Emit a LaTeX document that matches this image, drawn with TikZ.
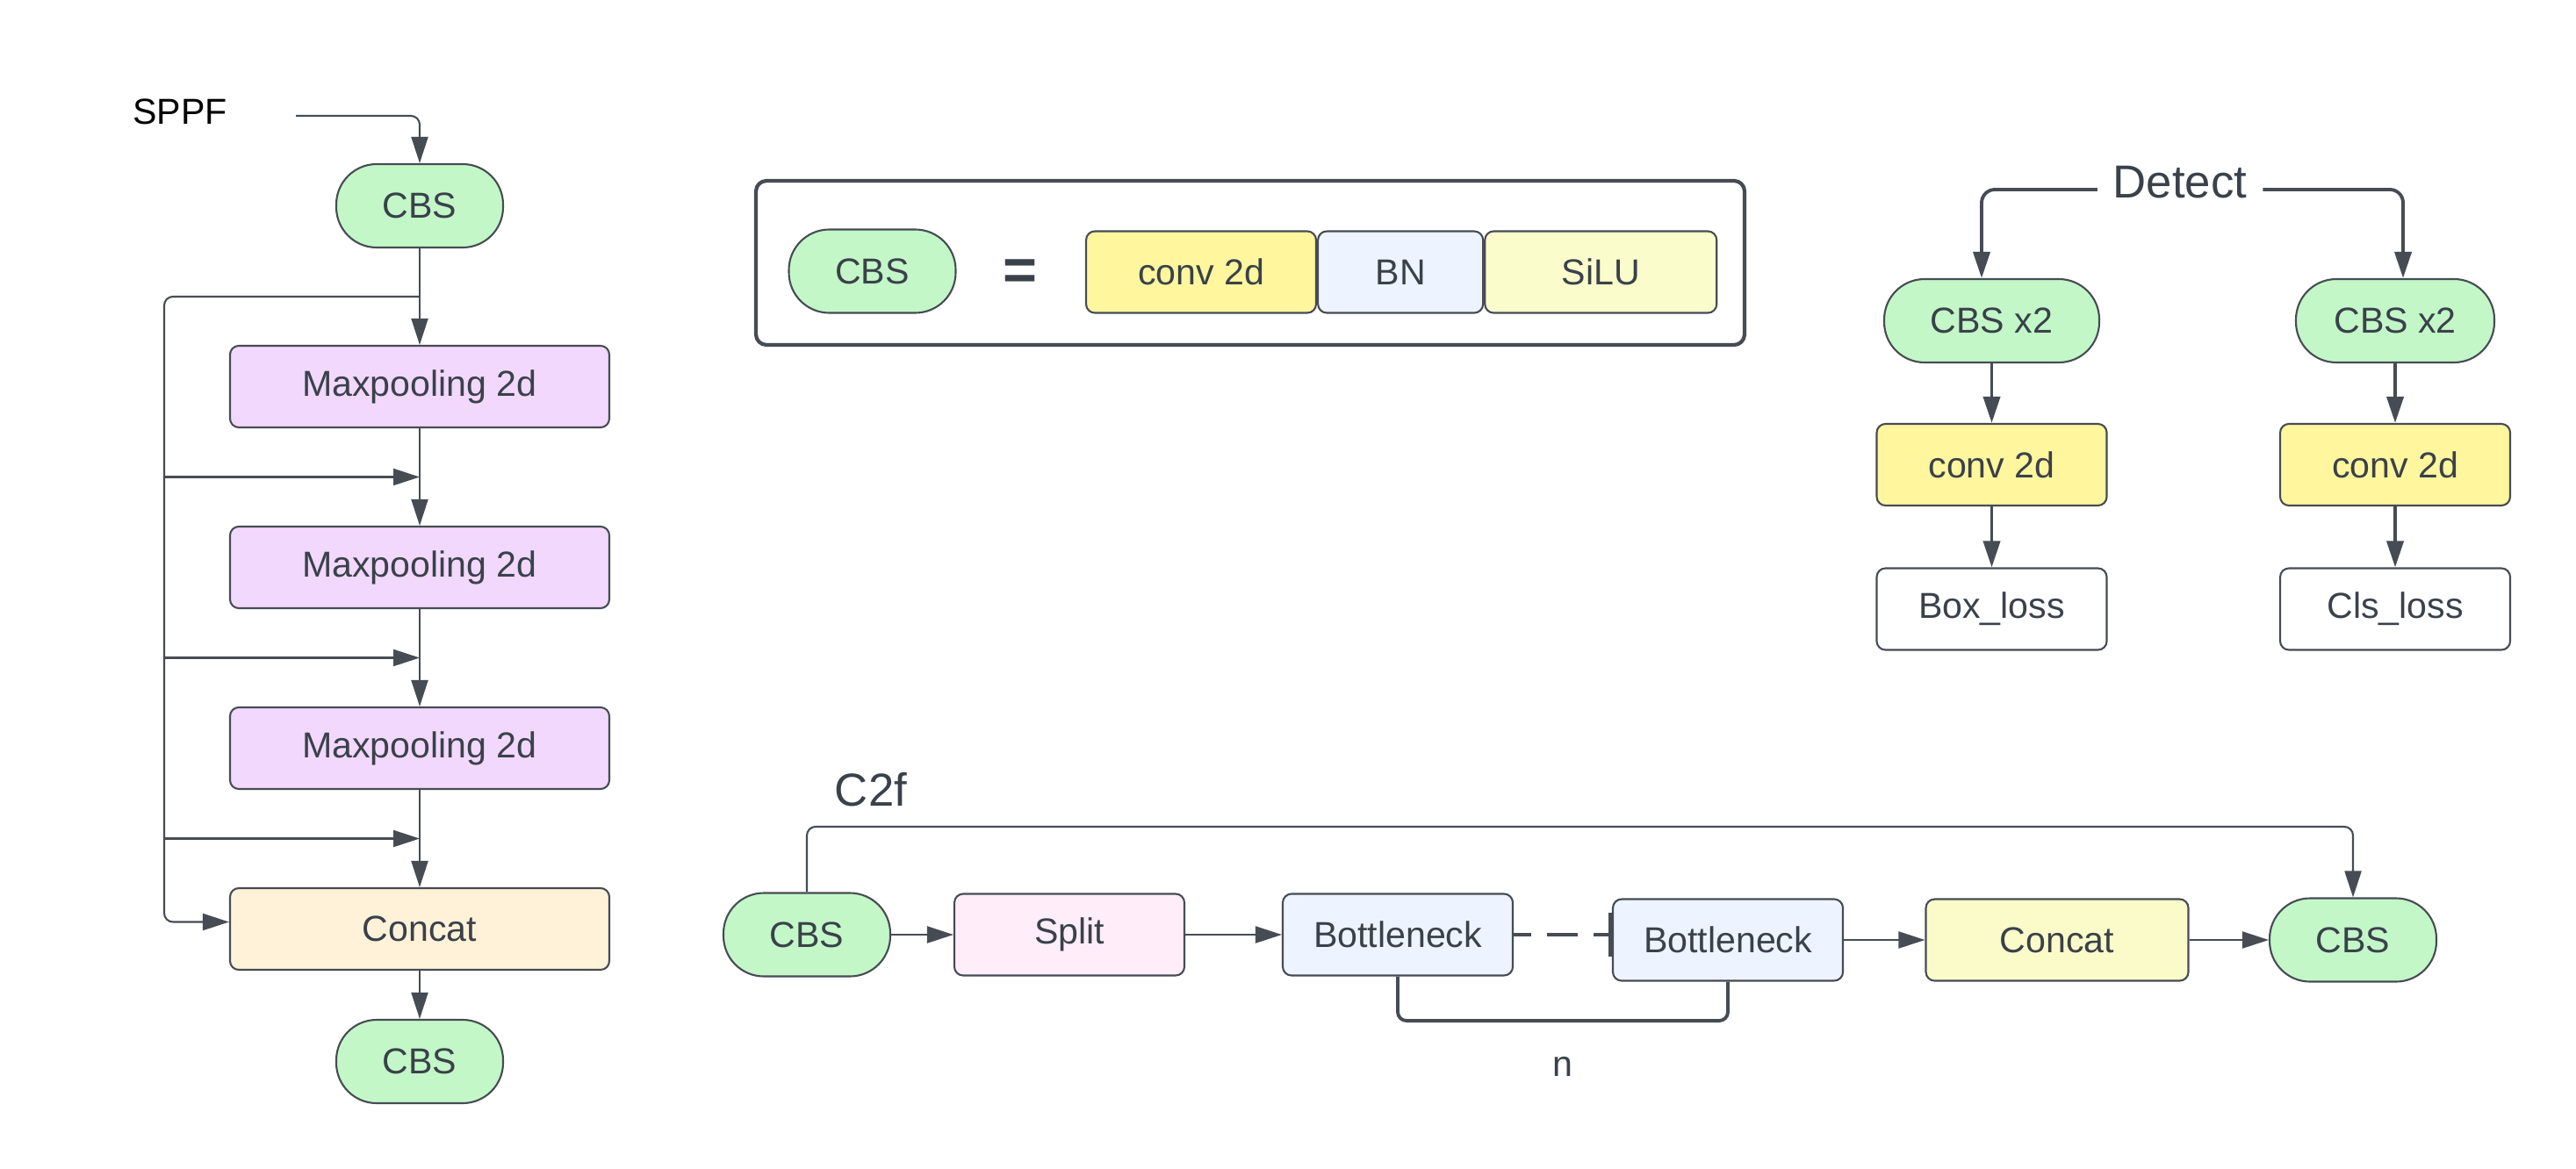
\documentclass[tikz,border=0pt]{standalone}
\usepackage{fontspec}
\setmainfont{Liberation Sans}
\usetikzlibrary{positioning,arrows.meta}

\definecolor{linegray}{HTML}{474C54}
\definecolor{textgray}{HTML}{3A414A}
\definecolor{cbsgreen}{HTML}{C3F7C8}
\definecolor{poolpurple}{HTML}{F2D8FC}
\definecolor{concatorange}{HTML}{FFF2D9}
\definecolor{convyellow}{HTML}{FFF69E}
\definecolor{bnblue}{HTML}{EDF4FF}
\definecolor{siluyellow}{HTML}{FBFCCB}
\definecolor{splitpink}{HTML}{FFEEF9}
\definecolor{catyellow}{HTML}{FBFBC9}

\begin{document}
\begin{tikzpicture}[->,>={Triangle[length=0.3cm,width=0.19cm]},auto,node distance=2.06cm,color=linegray,line width=0.6pt,
    block node/.style={draw=linegray,line width=0.6pt,rounded corners=0.1cm,minimum height=0.93cm,inner sep=0pt,text=textgray,font=\fontsize{11.7}{14}\selectfont},
    cbs node/.style={block node,fill=cbsgreen,rounded corners=0.46cm,minimum width=1.9cm,minimum height=0.95cm},
    pool node/.style={block node,fill=poolpurple,minimum width=4.32cm},
    concat node/.style={block node,fill=concatorange,minimum width=4.32cm},
    conv node/.style={block node,fill=convyellow,minimum width=2.62cm},
    bn node/.style={block node,fill=bnblue,minimum width=1.88cm},
    silu node/.style={block node,fill=siluyellow,minimum width=2.64cm},
    loss node/.style={block node,fill=white,minimum width=2.62cm},
    split node/.style={block node,fill=splitpink,minimum width=2.62cm},
    cat node/.style={block node,fill=catyellow,minimum width=2.99cm},
    title node/.style={text=textgray,font=\fontsize{15}{18}\selectfont,inner sep=0.17cm},
    thick line/.style={line width=1.1pt}]
    \useasboundingbox[fill=white] (0,0) rectangle (29.34,-13.31);

    % SPPF
    \node[font=\fontsize{11.7}{14}\selectfont,text=black] (sppf) at (2.05,-1.27) {SPPF};
    \coordinate (sppfin) at (3.37,-1.32);
    \node[cbs node] (cbs1) at (4.78,-2.345) {CBS};
    \node[pool node] (pool1) [below of = cbs1] {Maxpooling 2d};
    \node[pool node] (pool2) [below of = pool1] {Maxpooling 2d};
    \node[pool node] (pool3) [below of = pool2] {Maxpooling 2d};
    \node[concat node] (concat1) [below of = pool3] {Concat};
    \node[cbs node] (cbs2) [below of = concat1, node distance=1.51cm] {CBS};

    \coordinate (tap0) at (4.78,-3.38);
    \coordinate (bus0) at (1.87,-3.38);
    \coordinate (bus1) at (1.87,-5.435);
    \coordinate (tap1) at (4.78,-5.435);
    \coordinate (bus2) at (1.87,-7.495);
    \coordinate (tap2) at (4.78,-7.495);
    \coordinate (bus3) at (1.87,-9.555);
    \coordinate (tap3) at (4.78,-9.555);

    \draw[rounded corners=0.1cm] (sppfin) -| (cbs1);
    \path
        (cbs1) edge (pool1)
        (pool1) edge (pool2)
        (pool2) edge (pool3)
        (pool3) edge (concat1)
        (concat1) edge (cbs2)
        (bus1) edge (tap1)
        (bus2) edge (tap2)
        (bus3) edge (tap3)
        ;
    \draw[rounded corners=0.1cm] (tap0) -- (bus0) |- ([yshift=0.08cm]concat1.west);

    % CBS block
    \draw[-,line width=1.2pt,rounded corners=0.12cm] (8.61,-2.06) rectangle (19.87,-3.93);
    \node[cbs node] (cbs0) at (9.935,-3.09) {CBS};
    \node[text=textgray,font=\fontsize{19}{20}\selectfont\bfseries] (eq) at (11.62,-3.13) {=};
    \node[conv node] (conv0) at (13.68,-3.10) {conv 2d};
    \node[bn node,anchor=west] (bn0) at (conv0.east) {BN};
    \node[silu node,anchor=west] (silu0) at (bn0.east) {SiLU};

    % Detect
    \node[title node] (detect) at (24.83,-2.08) {Detect};
    \node[cbs node,minimum width=2.45cm] (cbsbox) at (22.685,-3.655) {CBS x2};
    \node[conv node] (convbox) [below of = cbsbox, node distance=1.64cm] {conv 2d};
    \node[loss node] (boxloss) [below of = convbox, node distance=1.645cm] {Box\_loss};
    \node[cbs node,minimum width=2.26cm] (cbscls) at (27.28,-3.655) {CBS x2};
    \node[conv node] (convcls) [below of = cbscls, node distance=1.64cm] {conv 2d};
    \node[loss node] (clsloss) [below of = convcls, node distance=1.645cm] {Cls\_loss};

    \draw[thick line,rounded corners=0.15cm] ([yshift=-0.08cm]detect.west) -| ([xshift=-0.115cm]cbsbox.north);
    \draw[thick line,rounded corners=0.15cm] ([yshift=-0.08cm]detect.east) -| ([xshift=0.09cm]cbscls.north);
    \path[thick line]
        (cbsbox) edge (convbox)
        (convbox) edge (boxloss)
        (cbscls) edge (convcls)
        (convcls) edge (clsloss)
        ;

    % C2f
    \node[title node] (c2f) at (9.92,-9.0) {C2f};
    \node[cbs node] (cbs3) at (9.19,-10.65) {CBS};
    \node[split node] (split) [right of = cbs3, node distance=2.99cm] {Split};
    \node[bn node,minimum width=2.62cm] (bneck1) [right of = split, node distance=3.74cm] {Bottleneck};
    \node[bn node,minimum width=2.62cm] (bneck2) at (19.68,-10.71) {Bottleneck};
    \node[cat node] (concat2) [right of = bneck2, node distance=3.75cm] {Concat};
    \node[cbs node] (cbs4) [right of = concat2, node distance=3.37cm] {CBS};
    \node[text=textgray,font=\fontsize{11.7}{14}\selectfont] (n) at (17.80,-12.15) {n};

    \path
        (cbs3) edge (split)
        (split) edge (bneck1)
        (bneck2) edge (concat2)
        (concat2) edge (cbs4)
        ;
    \draw[line width=0.9pt,-{Bar[width=0.5cm,line width=1.1pt]},dash pattern=on 0.35cm off 0.18cm,dash phase=0.15cm] (bneck1.east) -- (bneck1.east -| bneck2.west);
    \draw[rounded corners=0.1cm] (cbs3.north) -- ++(0,0.745) -| (cbs4.north);
    \draw[-,thick line,rounded corners=0.1cm] (bneck1.south) -- ++(0,-0.505) -| (bneck2.south);
\end{tikzpicture}
\end{document}
